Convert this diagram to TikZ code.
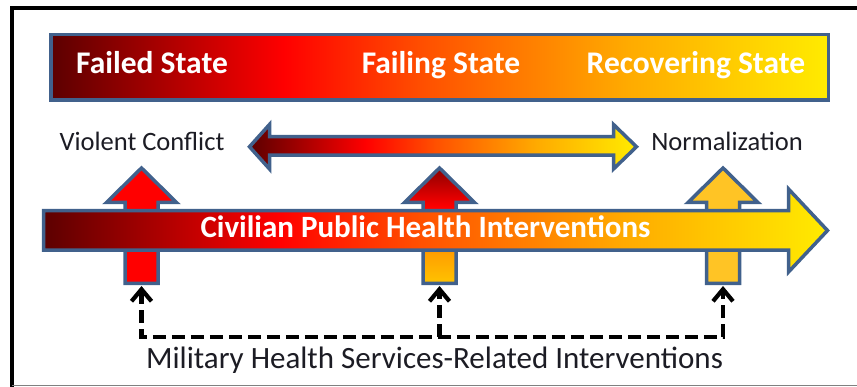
\documentclass[tikz,border=0pt]{standalone}
\usepackage{fontspec}
\setmainfont{Carlito}
\usetikzlibrary{arrows.meta}

\definecolor{rimblue}{RGB}{65,97,140}
\definecolor{maroon}{RGB}{92,0,0}
\definecolor{hotred}{RGB}{255,0,0}
\definecolor{flame}{RGB}{255,80,0}
\definecolor{amber}{RGB}{255,170,0}
\definecolor{lemon}{RGB}{255,235,0}
\definecolor{saffron}{RGB}{255,195,0}
\definecolor{tangerine}{RGB}{255,160,0}
\definecolor{embers}{RGB}{140,0,0}
\definecolor{gold}{RGB}{255,196,37}
\definecolor{ink}{RGB}{28,28,36}

% left to right: dark red -> red -> orange -> yellow
\pgfdeclarehorizontalshading{stateshade}{100bp}{color(0bp)=(maroon); color(25bp)=(maroon);
  color(40bp)=(hotred); color(49bp)=(flame); color(62bp)=(amber); color(75bp)=(lemon); color(100bp)=(lemon)}
% bottom to top for the middle riser
\pgfdeclareverticalshading{risershade}{100bp}{color(0bp)=(saffron); color(25bp)=(saffron);
  color(38bp)=(tangerine); color(48bp)=(flame); color(58bp)=(hotred); color(75bp)=(embers); color(100bp)=(embers)}

% up arrow, #1 = x of its axis
\newcommand{\riser}[1]{(#1,168) -- (#1+35,202.5) -- (#1+16.5,202.5) -- (#1+16.5,283.5)
  -- (#1-16.5,283.5) -- (#1-16.5,202.5) -- (#1-35,202.5) -- cycle}

\tikzset{
  rim/.style={draw=rimblue, line width=3.5pt, line join=miter},
  statetext/.style={text=white, font=\bfseries\fontsize{31.5}{38}\selectfont, anchor=base},
  phase/.style={text=ink, font=\fontsize{26.5}{32}\selectfont, anchor=base},
  milline/.style={line width=4.2pt, dash pattern=on 13pt off 6pt},
  barb/.tip={Straight Barb[length=12pt,width=20pt,line width=4.2pt]}
}

\begin{document}
\begin{tikzpicture}[x=1pt,y=-1pt]
  \useasboundingbox (0,0) rectangle (857,387);
  \fill[white] (0,0) rectangle (857,387);
  % frame
  \draw[line width=4pt] (12,387) -- (12,8) -- (857,8);
  \draw[gray, line width=1pt] (12,385) -- (857,385);

  % state bar
  \shadedraw[shading=stateshade, rim] (50.75,34.75) rectangle (828.25,100.25);
  \node[statetext] (failed) at (152,74) {Failed State};
  \node[statetext] (failing) at (441,74) {Failing State};
  \node[statetext] (recovering) at (696,74) {Recovering State};

  % double arrow between the phases
  \shadedraw[shading=stateshade, rim] (249.5,146.75) -- (269.5,124.5) -- (269.5,136.75)
    -- (613.5,136.75) -- (613.5,124.5) -- (636.5,146.75) -- (613.5,169) -- (613.5,155.25)
    -- (269.5,155.25) -- (269.5,169) -- cycle;
  \node[phase] (conflict) at (142,151) {Violent Conflict};
  \node[phase] (normal) at (727,151) {Normalization};

  % risers
  \filldraw[fill=hotred, rim] \riser{141.5};
  \shadedraw[shading=risershade, rim] \riser{439.5};
  \filldraw[fill=gold, rim] \riser{723};

  % civilian arrow
  \shadedraw[shading=stateshade, rim] (43.5,210.75) -- (788.5,210.75) -- (788.5,189)
    -- (827.5,230.5) -- (788.5,272) -- (788.5,250.25) -- (43.5,250.25) -- cycle;
  \node[statetext, font=\bfseries\fontsize{31}{38}\selectfont] (civilian) at (425.5,238)
    {Civilian Public Health Interventions};

  % military links
  \coordinate (foot1) at (141.5,286);
  \coordinate (foot2) at (439.5,286);
  \coordinate (foot3) at (723,286);
  \coordinate (corner1) at (141.5,337);
  \coordinate (corner2) at (439.5,337);
  \coordinate (corner3) at (723,337);
  \draw[milline, barb-barb] (foot1) -- (corner1) -- (corner3) -- (foot3);
  \draw[milline, -barb] (corner2) -- (foot2);
  \node[phase, font=\fontsize{31}{37}\selectfont] (military) at (434.5,369)
    {Military Health Services-Related Interventions};
\end{tikzpicture}
\end{document}
